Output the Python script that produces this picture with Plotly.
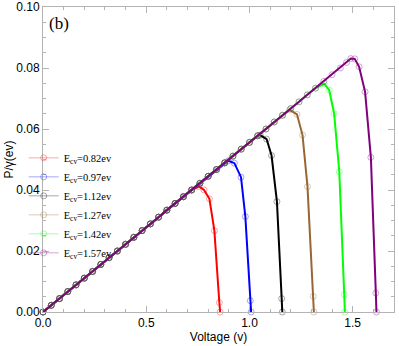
import plotly.graph_objects as go

# shared linear (low-voltage) region
v_common = [0.00, 0.04, 0.08, 0.12, 0.16, 0.20, 0.24, 0.28, 0.32, 0.36, 0.40,
            0.44, 0.48, 0.52, 0.56, 0.60, 0.64, 0.68, 0.72, 0.76, 0.80,
            0.84, 0.88, 0.92, 0.96, 1.00, 1.04, 1.08, 1.12, 1.16, 1.20,
            1.24, 1.28, 1.32, 1.36, 1.40, 1.44]
p_common = [0.0000, 0.0022, 0.0044, 0.0067, 0.0089, 0.0111, 0.0133, 0.0156, 0.0178, 0.0200, 0.0222,
            0.0245, 0.0267, 0.0289, 0.0311, 0.0334, 0.0356, 0.0378, 0.0400, 0.0422, 0.0445,
            0.0467, 0.0489, 0.0511, 0.0534, 0.0556, 0.0578, 0.0600, 0.0623, 0.0645, 0.0667,
            0.0689, 0.0712, 0.0734, 0.0756, 0.0778, 0.0800]

names = ["0.82", "0.97", "1.12", "1.27", "1.42", "1.57"]
line_colors = ["#ff0000", "#0000ff", "#000000", "#996633", "#00ff00", "#800080"]
marker_colors = ["rgba(255,0,0,0.35)", "rgba(0,0,255,0.35)", "rgba(0,0,0,0.35)",
                 "rgba(153,102,51,0.35)", "rgba(0,255,0,0.35)", "rgba(128,0,128,0.35)"]

# number of shared points used by each series before its knee
n_shared = [19, 23, 27, 30, 34, 37]

# knee and drop-off points of each series
tail_v = [
    [0.755, 0.780, 0.806, 0.830, 0.854, 0.858],
    [0.898, 0.927, 0.959, 0.980, 1.004, 1.008],
    [1.052, 1.083, 1.107, 1.133, 1.156, 1.159],
    [1.195, 1.230, 1.257, 1.281, 1.309, 1.312],
    [1.362, 1.386, 1.410, 1.435, 1.459, 1.462],
    [1.470, 1.491, 1.510, 1.531, 1.560, 1.588, 1.612, 1.615],
]
tail_p = [
    [0.0412, 0.0400, 0.0371, 0.0267, 0.0031, 0.0000],
    [0.0496, 0.0488, 0.0442, 0.0313, 0.0037, 0.0000],
    [0.0580, 0.0567, 0.0513, 0.0362, 0.0044, 0.0000],
    [0.0663, 0.0648, 0.0580, 0.0411, 0.0051, 0.0000],
    [0.0748, 0.0728, 0.0651, 0.0460, 0.0057, 0.0000],
    [0.0818, 0.0831, 0.0830, 0.0804, 0.0722, 0.0507, 0.0062, 0.0000],
]

fig = go.Figure()
for i in range(6):
    xs = v_common[:n_shared[i]] + tail_v[i]
    ys = p_common[:n_shared[i]] + tail_p[i]
    fig.add_trace(go.Scatter(
        x=xs, y=ys, mode="lines+markers", showlegend=False,
        line=dict(color=line_colors[i], width=2),
        marker=dict(symbol="circle-open", size=6, color=marker_colors[i],
                    line=dict(width=1, color=marker_colors[i])),
        cliponaxis=False,
    ))

for i in range(6):
    fig.add_trace(go.Scatter(
        x=[None], y=[None], mode="lines+markers",
        name="E<sub>cv</sub>=" + names[i] + "ev",
        line=dict(color=marker_colors[i], width=1),
        marker=dict(symbol="circle-open", size=6, color=marker_colors[i]),
    ))

axis_common = dict(
    showgrid=False, zeroline=False, showline=True, linecolor="#b4b4b4", linewidth=1,
    mirror="allticks", ticks="inside", ticklen=6, tickcolor="#b4b4b4", automargin=False,
    tickfont=dict(family="Liberation Sans, Arial", size=12, color="black"),
)

fig.update_layout(
    width=399, height=346,
    margin=dict(l=43, r=5, t=7, b=34),
    plot_bgcolor="white", paper_bgcolor="white",
    xaxis=dict(range=[0, 1.7], dtick=0.5, tick0=0, tickformat=".1f",
               title=dict(text="Voltage (v)", font=dict(family="Liberation Sans, Arial", size=12, color="black"), standoff=0),
               minor=dict(dtick=0.1, ticks="inside", ticklen=3, tickcolor="#b4b4b4"),
               **axis_common),
    yaxis=dict(range=[0, 0.1], dtick=0.02, tick0=0, tickformat=".2f",
               title=dict(text="P/γ(ev)", font=dict(family="Liberation Sans, Arial", size=12, color="black"), standoff=0),
               minor=dict(dtick=0.005, ticks="inside", ticklen=3, tickcolor="#b4b4b4"),
               **axis_common),
    legend=dict(x=-0.055, y=0.553, xanchor="left", yanchor="top",
                bgcolor="rgba(0,0,0,0)",
                font=dict(family="Liberation Serif, Times New Roman", size=10.5, color="black"),
                itemwidth=30),
    annotations=[dict(text="(b)", x=0.01, y=0.985, xref="paper", yref="paper",
                      xanchor="left", yanchor="top", showarrow=False,
                      font=dict(family="Liberation Serif, Times New Roman", size=17, color="black"))],
)

fig.write_html("out.html", config={"displayModeBar": False},
               post_script="document.body.style.margin='0px';")
